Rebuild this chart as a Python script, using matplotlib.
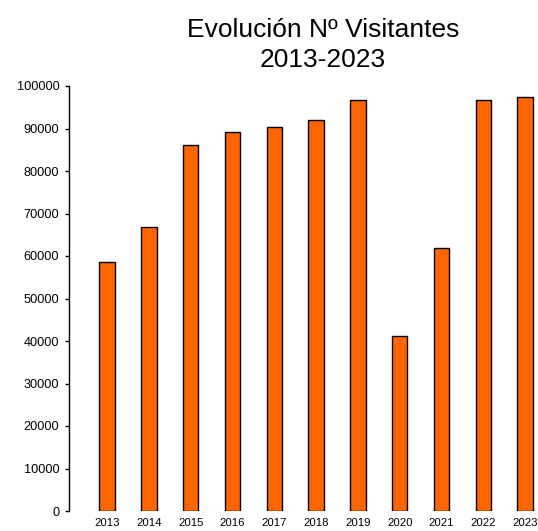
import matplotlib
matplotlib.use("Agg")
import matplotlib.pyplot as plt
import numpy as np

years = ["2013", "2014", "2015", "2016", "2017", "2018", "2019", "2020", "2021", "2022", "2023"]
visitors = [58600, 66800, 86100, 89200, 90400, 92000, 96700, 41200, 61900, 96700, 97400]
yticks = [0, 10000, 20000, 30000, 40000, 50000, 60000, 70000, 80000, 90000, 100000]

plt.rcParams['font.family'] = ['Liberation Sans', 'DejaVu Sans']

fig = plt.figure(figsize=(5.38, 5.31), dpi=100)
ax = fig.add_axes([69/538, 20/531, 1 - 69/538, (511-86)/531])

x = np.arange(len(years))
ax.bar(x, visitors, width=0.37, color="#FF6600", edgecolor="black", linewidth=1.0)

ax.set_ylim(0, 100000)
ax.set_xlim(-0.91, 10.31)
ax.set_yticks(yticks)
ax.set_yticklabels([str(v) for v in yticks], fontsize=9.2)
ax.set_xticks(x)
ax.set_xticklabels(years, fontsize=8.2)
ax.tick_params(axis='x', length=0, pad=5)
ax.tick_params(axis='y', length=3, width=1, pad=4)

for s in ["top", "right", "bottom"]:
    ax.spines[s].set_visible(False)
ax.spines["left"].set_linewidth(1)

fig.text(323/538, 1 - 45/531, "Evolución Nº Visitantes\n2013-2023", ha="center", va="center",
         fontsize=19, linespacing=1.3)

fig.savefig("out.png", dpi=100)
